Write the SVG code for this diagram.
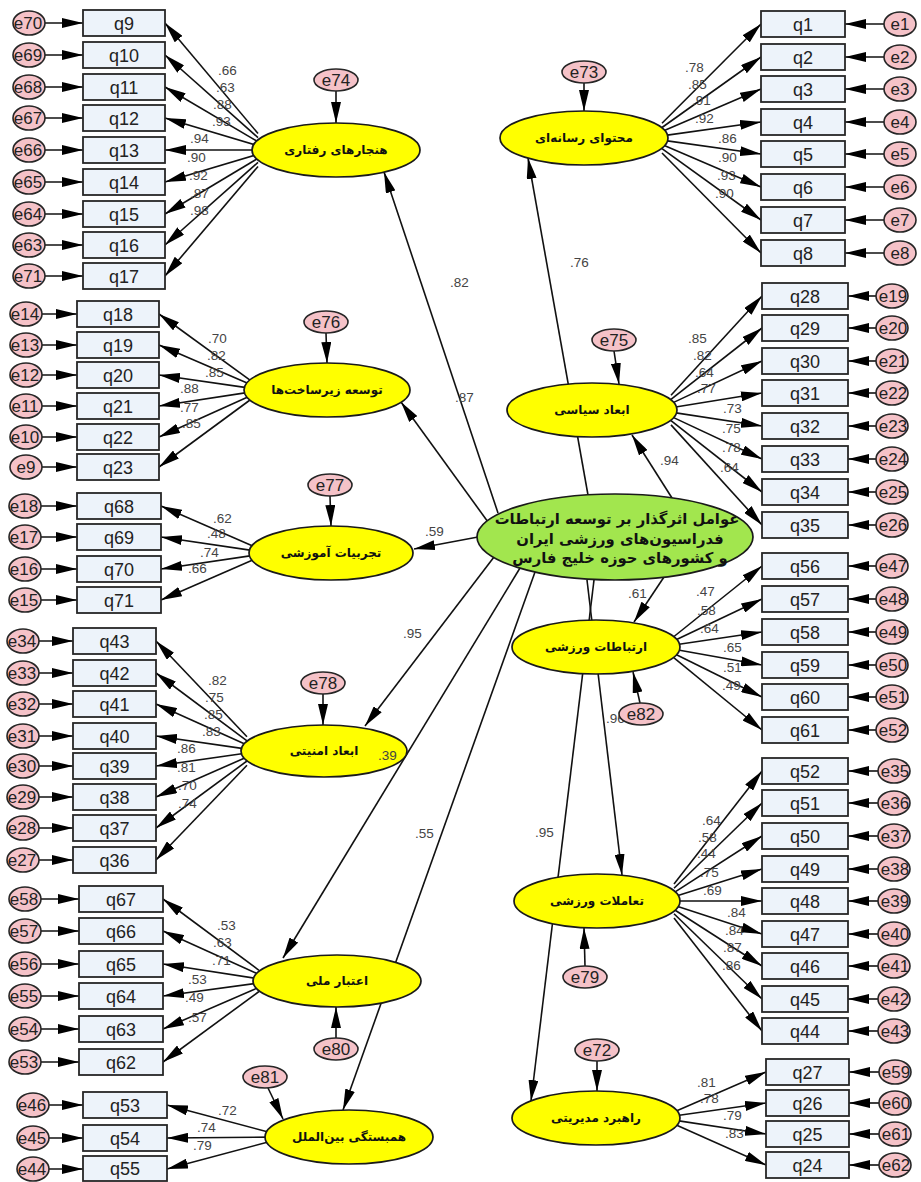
<svg xmlns="http://www.w3.org/2000/svg" width="921" height="1182" viewBox="0 0 921 1182">
<defs>
<style>
.ob{fill:#edf3fa;stroke:#262626;stroke-width:1.8}
.er{fill:#f5c2c8;stroke:#262626;stroke-width:1.6}
.lv{fill:#ffff00;stroke:#1a1a1a;stroke-width:1.7}
.gr{fill:#a2e64e;stroke:#1a1a1a;stroke-width:1.7}
.qt{font-family:"Liberation Sans",Arial,sans-serif;font-size:18px;fill:#222;text-anchor:middle}
.et{font-family:"Liberation Sans",Arial,sans-serif;font-size:17px;fill:#222;text-anchor:middle}
.lt{font-family:"DejaVu Sans","Noto Sans",sans-serif;font-weight:bold;font-size:12px;fill:#111;text-anchor:middle}
.gt{font-family:"DejaVu Sans","Noto Sans",sans-serif;font-weight:bold;font-size:14.8px;fill:#111;text-anchor:middle}
.ld{font-family:"Liberation Sans",Arial,sans-serif;font-size:13.5px;fill:#444}
.cn line{stroke:#111;stroke-width:1.6;marker-end:url(#ah)}
</style>
<marker id="ah" markerWidth="21" markerHeight="10" refX="21" refY="5" orient="auto" markerUnits="userSpaceOnUse"><path d="M0,0 L21,5 L0,10 z" fill="#000"/></marker>
</defs>
<rect width="921" height="1182" fill="#fff"/>
<g id="connectors" class="cn">
<line x1="498" y1="513" x2="384" y2="172"/>
<line x1="488" y1="522" x2="401" y2="402"/>
<line x1="478" y1="537" x2="414" y2="549"/>
<line x1="494" y1="557" x2="365" y2="726"/>
<line x1="520" y1="568" x2="283" y2="958"/>
<line x1="535" y1="572" x2="343" y2="1110"/>
<line x1="588" y1="495" x2="528" y2="158"/>
<line x1="672" y1="498" x2="632" y2="435"/>
<line x1="664" y1="577" x2="634" y2="622"/>
<line x1="587" y1="580" x2="622" y2="875"/>
<line x1="594" y1="580" x2="531" y2="1101"/>
<line x1="336" y1="91" x2="336" y2="123"/>
<line x1="326" y1="333" x2="327" y2="363"/>
<line x1="330" y1="496" x2="331" y2="526"/>
<line x1="323" y1="694" x2="323" y2="725"/>
<line x1="336" y1="1038" x2="336" y2="1007"/>
<line x1="268" y1="1088" x2="283" y2="1119"/>
<line x1="584" y1="83" x2="584" y2="111"/>
<line x1="614" y1="351" x2="619" y2="384"/>
<line x1="640" y1="703" x2="633" y2="672"/>
<line x1="585" y1="966" x2="584" y2="928"/>
<line x1="597" y1="1061" x2="597" y2="1091"/>
<line x1="258" y1="133.5" x2="165" y2="23"/>
<line x1="258" y1="137.6" x2="165" y2="55"/>
<line x1="258" y1="141.8" x2="165" y2="87"/>
<line x1="258" y1="145.8" x2="165" y2="118"/>
<line x1="258" y1="150" x2="165" y2="150"/>
<line x1="258" y1="154.2" x2="165" y2="182"/>
<line x1="258" y1="158.3" x2="165" y2="214"/>
<line x1="258" y1="162.4" x2="165" y2="245"/>
<line x1="258" y1="166.4" x2="165" y2="276"/>
<line x1="250" y1="380.1" x2="159" y2="314"/>
<line x1="250" y1="384.2" x2="159" y2="345"/>
<line x1="250" y1="388.1" x2="159" y2="375"/>
<line x1="250" y1="392.1" x2="159" y2="406"/>
<line x1="250" y1="396.1" x2="159" y2="437"/>
<line x1="250" y1="400" x2="159" y2="467"/>
<line x1="255" y1="546.9" x2="161" y2="506"/>
<line x1="255" y1="550.9" x2="161" y2="537"/>
<line x1="255" y1="555.1" x2="161" y2="569"/>
<line x1="255" y1="559.1" x2="161" y2="600"/>
<line x1="247" y1="736.7" x2="156" y2="641"/>
<line x1="247" y1="740.9" x2="156" y2="673"/>
<line x1="247" y1="744.9" x2="156" y2="704"/>
<line x1="247" y1="749.1" x2="156" y2="736"/>
<line x1="247" y1="753" x2="156" y2="766"/>
<line x1="247" y1="757" x2="156" y2="797"/>
<line x1="247" y1="761" x2="156" y2="828"/>
<line x1="247" y1="765.2" x2="156" y2="860"/>
<line x1="259" y1="970.3" x2="163" y2="899"/>
<line x1="259" y1="974.5" x2="163" y2="931"/>
<line x1="259" y1="978.8" x2="163" y2="964"/>
<line x1="259" y1="983" x2="163" y2="996"/>
<line x1="259" y1="987.2" x2="163" y2="1029"/>
<line x1="259" y1="991.5" x2="163" y2="1062"/>
<line x1="271" y1="1132.8" x2="167" y2="1105"/>
<line x1="271" y1="1137.1" x2="167" y2="1138"/>
<line x1="271" y1="1141.2" x2="167" y2="1169"/>
<line x1="662" y1="123.2" x2="761" y2="24"/>
<line x1="662" y1="127.5" x2="761" y2="57"/>
<line x1="662" y1="131.6" x2="761" y2="89"/>
<line x1="662" y1="135.9" x2="761" y2="122"/>
<line x1="662" y1="140.1" x2="761" y2="154"/>
<line x1="662" y1="144.4" x2="761" y2="187"/>
<line x1="662" y1="148.7" x2="761" y2="220"/>
<line x1="662" y1="153" x2="761" y2="253"/>
<line x1="671" y1="395.2" x2="762" y2="296"/>
<line x1="671" y1="399.3" x2="762" y2="328"/>
<line x1="671" y1="403.6" x2="762" y2="361"/>
<line x1="671" y1="407.8" x2="762" y2="393"/>
<line x1="671" y1="412.1" x2="762" y2="426"/>
<line x1="671" y1="416.4" x2="762" y2="459"/>
<line x1="671" y1="420.7" x2="762" y2="492"/>
<line x1="671" y1="424.9" x2="762" y2="525"/>
<line x1="674" y1="636.5" x2="762" y2="566"/>
<line x1="674" y1="640.8" x2="762" y2="599"/>
<line x1="674" y1="645" x2="762" y2="632"/>
<line x1="674" y1="649.3" x2="762" y2="665"/>
<line x1="674" y1="653.5" x2="762" y2="697"/>
<line x1="674" y1="657.8" x2="762" y2="730"/>
<line x1="674" y1="884.1" x2="762" y2="771"/>
<line x1="674" y1="888.3" x2="762" y2="803"/>
<line x1="674" y1="892.6" x2="762" y2="836"/>
<line x1="674" y1="896.8" x2="762" y2="869"/>
<line x1="674" y1="901" x2="762" y2="901"/>
<line x1="674" y1="905.3" x2="762" y2="934"/>
<line x1="674" y1="909.5" x2="762" y2="966"/>
<line x1="674" y1="913.7" x2="762" y2="999"/>
<line x1="674" y1="917.9" x2="762" y2="1031"/>
<line x1="674" y1="1112" x2="766" y2="1072"/>
<line x1="674" y1="1116" x2="766" y2="1103"/>
<line x1="674" y1="1120.1" x2="766" y2="1134"/>
<line x1="674" y1="1124.1" x2="766" y2="1165"/>
<line x1="45" y1="23" x2="83" y2="23"/><line x1="45" y1="55" x2="83" y2="55"/><line x1="45" y1="87" x2="83" y2="87"/><line x1="45" y1="118" x2="83" y2="118"/><line x1="45" y1="150" x2="83" y2="150"/><line x1="45" y1="182" x2="83" y2="182"/><line x1="45" y1="214" x2="83" y2="214"/><line x1="45" y1="245" x2="83" y2="245"/><line x1="45" y1="276" x2="83" y2="276"/>
<line x1="42" y1="314" x2="77" y2="314"/><line x1="42" y1="345" x2="77" y2="345"/><line x1="42" y1="375" x2="77" y2="375"/><line x1="42" y1="406" x2="77" y2="406"/><line x1="42" y1="437" x2="77" y2="437"/><line x1="42" y1="467" x2="77" y2="467"/>
<line x1="41" y1="506" x2="77" y2="506"/><line x1="41" y1="537" x2="77" y2="537"/><line x1="41" y1="569" x2="77" y2="569"/><line x1="41" y1="600" x2="77" y2="600"/>
<line x1="39" y1="641" x2="73" y2="641"/><line x1="39" y1="673" x2="73" y2="673"/><line x1="39" y1="704" x2="73" y2="704"/><line x1="39" y1="736" x2="73" y2="736"/><line x1="39" y1="766" x2="73" y2="766"/><line x1="39" y1="797" x2="73" y2="797"/><line x1="39" y1="828" x2="73" y2="828"/><line x1="39" y1="860" x2="73" y2="860"/>
<line x1="41" y1="899" x2="79" y2="899"/><line x1="41" y1="931" x2="79" y2="931"/><line x1="41" y1="964" x2="79" y2="964"/><line x1="41" y1="996" x2="79" y2="996"/><line x1="41" y1="1029" x2="79" y2="1029"/><line x1="41" y1="1062" x2="79" y2="1062"/>
<line x1="49" y1="1105" x2="83" y2="1105"/><line x1="49" y1="1138" x2="83" y2="1138"/><line x1="49" y1="1169" x2="83" y2="1169"/>
<line x1="884" y1="24" x2="845" y2="24"/><line x1="884" y1="57" x2="845" y2="57"/><line x1="884" y1="89" x2="845" y2="89"/><line x1="884" y1="122" x2="845" y2="122"/><line x1="884" y1="154" x2="845" y2="154"/><line x1="884" y1="187" x2="845" y2="187"/><line x1="884" y1="220" x2="845" y2="220"/><line x1="884" y1="253" x2="845" y2="253"/>
<line x1="876" y1="296" x2="848" y2="296"/><line x1="876" y1="328" x2="848" y2="328"/><line x1="876" y1="361" x2="848" y2="361"/><line x1="876" y1="393" x2="848" y2="393"/><line x1="876" y1="426" x2="848" y2="426"/><line x1="876" y1="459" x2="848" y2="459"/><line x1="876" y1="492" x2="848" y2="492"/><line x1="876" y1="525" x2="848" y2="525"/>
<line x1="876" y1="566" x2="848" y2="566"/><line x1="876" y1="599" x2="848" y2="599"/><line x1="876" y1="632" x2="848" y2="632"/><line x1="876" y1="665" x2="848" y2="665"/><line x1="876" y1="697" x2="848" y2="697"/><line x1="876" y1="730" x2="848" y2="730"/>
<line x1="878" y1="771" x2="848" y2="771"/><line x1="878" y1="803" x2="848" y2="803"/><line x1="878" y1="836" x2="848" y2="836"/><line x1="878" y1="869" x2="848" y2="869"/><line x1="878" y1="901" x2="848" y2="901"/><line x1="878" y1="934" x2="848" y2="934"/><line x1="878" y1="966" x2="848" y2="966"/><line x1="878" y1="999" x2="848" y2="999"/><line x1="878" y1="1031" x2="848" y2="1031"/>
<line x1="879" y1="1072" x2="849" y2="1072"/><line x1="879" y1="1103" x2="849" y2="1103"/><line x1="879" y1="1134" x2="849" y2="1134"/><line x1="879" y1="1165" x2="849" y2="1165"/>
</g>
<g id="label-under" class="ld"><text x="606" y="723">.96</text></g>
<g id="green"><ellipse class="gr" cx="615" cy="537" rx="138" ry="43"/><text class="gt"><tspan x="617" y="524">عوامل اثرگذار بر توسعه ارتباطات</tspan><tspan x="620" y="544">فدراسیون‌های ورزشی ایران</tspan><tspan x="620" y="563">و کشورهای حوزه خلیج فارس</tspan></text></g>
<g id="LA"><ellipse class="lv" cx="336" cy="150" rx="84" ry="27"/><text class="lt" x="336" y="154">هنجارهای رفتاری</text></g>
<g id="LB"><ellipse class="lv" cx="327" cy="390" rx="83" ry="27"/><text class="lt" x="327" y="394">توسعه زیرساخت‌ها</text></g>
<g id="LC"><ellipse class="lv" cx="331" cy="553" rx="82" ry="27"/><text class="lt" x="331" y="557">تجربیات آموزشی</text></g>
<g id="LD"><ellipse class="lv" cx="324" cy="751" rx="83" ry="26"/><text class="lt" x="324" y="755">ابعاد امنیتی</text></g>
<g id="LE"><ellipse class="lv" cx="337" cy="981" rx="84" ry="26"/><text class="lt" x="337" y="985">اعتبار ملی</text></g>
<g id="LF"><ellipse class="lv" cx="349" cy="1137" rx="84" ry="27"/><text class="lt" x="349" y="1141">همبستگی بین‌الملل</text></g>
<g id="LG"><ellipse class="lv" cx="584" cy="138" rx="84" ry="27"/><text class="lt" x="584" y="142">محتوای رسانه‌ای</text></g>
<g id="LH"><ellipse class="lv" cx="592" cy="410" rx="85" ry="27"/><text class="lt" x="592" y="414">ابعاد سیاسی</text></g>
<g id="LI"><ellipse class="lv" cx="596" cy="647" rx="84" ry="27"/><text class="lt" x="596" y="651">ارتباطات ورزشی</text></g>
<g id="LJ"><ellipse class="lv" cx="597" cy="901" rx="83" ry="27"/><text class="lt" x="597" y="905">تعاملات ورزشی</text></g>
<g id="LK"><ellipse class="lv" cx="596" cy="1118" rx="84" ry="27"/><text class="lt" x="596" y="1122">راهبرد مدیریتی</text></g>
<g id="e74"><ellipse class="er" cx="336" cy="80" rx="22" ry="11"/><text class="et" x="336" y="86">e74</text></g>
<g id="e76"><ellipse class="er" cx="326" cy="322" rx="22" ry="11"/><text class="et" x="326" y="328">e76</text></g>
<g id="e77"><ellipse class="er" cx="330" cy="485" rx="22" ry="11"/><text class="et" x="330" y="491">e77</text></g>
<g id="e78"><ellipse class="er" cx="323" cy="683" rx="22" ry="11"/><text class="et" x="323" y="689">e78</text></g>
<g id="e80"><ellipse class="er" cx="336" cy="1049" rx="22" ry="11"/><text class="et" x="336" y="1055">e80</text></g>
<g id="e81"><ellipse class="er" cx="265" cy="1077" rx="22" ry="11"/><text class="et" x="265" y="1083">e81</text></g>
<g id="e73"><ellipse class="er" cx="584" cy="72" rx="22" ry="11"/><text class="et" x="584" y="78">e73</text></g>
<g id="e75"><ellipse class="er" cx="614" cy="340" rx="22" ry="11"/><text class="et" x="614" y="346">e75</text></g>
<g id="e82"><ellipse class="er" cx="641" cy="714" rx="22" ry="11"/><text class="et" x="641" y="720">e82</text></g>
<g id="e79"><ellipse class="er" cx="585" cy="977" rx="22" ry="11"/><text class="et" x="585" y="983">e79</text></g>
<g id="e72"><ellipse class="er" cx="597" cy="1050" rx="22" ry="11"/><text class="et" x="597" y="1056">e72</text></g>
<g id="q9"><rect class="ob" x="83" y="10" width="82" height="26"/><text class="qt" x="124" y="29.5">q9</text></g>
<g id="q10"><rect class="ob" x="83" y="42" width="82" height="26"/><text class="qt" x="124" y="61.5">q10</text></g>
<g id="q11"><rect class="ob" x="83" y="74" width="82" height="26"/><text class="qt" x="124" y="93.5">q11</text></g>
<g id="q12"><rect class="ob" x="83" y="105" width="82" height="26"/><text class="qt" x="124" y="124.5">q12</text></g>
<g id="q13"><rect class="ob" x="83" y="137" width="82" height="26"/><text class="qt" x="124" y="156.5">q13</text></g>
<g id="q14"><rect class="ob" x="83" y="169" width="82" height="26"/><text class="qt" x="124" y="188.5">q14</text></g>
<g id="q15"><rect class="ob" x="83" y="201" width="82" height="26"/><text class="qt" x="124" y="220.5">q15</text></g>
<g id="q16"><rect class="ob" x="83" y="232" width="82" height="26"/><text class="qt" x="124" y="251.5">q16</text></g>
<g id="q17"><rect class="ob" x="83" y="263" width="82" height="26"/><text class="qt" x="124" y="282.5">q17</text></g>
<g id="e70"><ellipse class="er" cx="29" cy="23" rx="16" ry="12"/><text class="et" x="28" y="29">e70</text></g>
<g id="e69"><ellipse class="er" cx="29" cy="55" rx="16" ry="12"/><text class="et" x="28" y="61">e69</text></g>
<g id="e68"><ellipse class="er" cx="29" cy="87" rx="16" ry="12"/><text class="et" x="28" y="93">e68</text></g>
<g id="e67"><ellipse class="er" cx="29" cy="118" rx="16" ry="12"/><text class="et" x="28" y="124">e67</text></g>
<g id="e66"><ellipse class="er" cx="29" cy="150" rx="16" ry="12"/><text class="et" x="28" y="156">e66</text></g>
<g id="e65"><ellipse class="er" cx="29" cy="182" rx="16" ry="12"/><text class="et" x="28" y="188">e65</text></g>
<g id="e64"><ellipse class="er" cx="29" cy="214" rx="16" ry="12"/><text class="et" x="28" y="220">e64</text></g>
<g id="e63"><ellipse class="er" cx="29" cy="245" rx="16" ry="12"/><text class="et" x="28" y="251">e63</text></g>
<g id="e71"><ellipse class="er" cx="29" cy="276" rx="16" ry="12"/><text class="et" x="28" y="282">e71</text></g>
<g id="q18"><rect class="ob" x="77" y="301" width="82" height="26"/><text class="qt" x="118" y="320.5">q18</text></g>
<g id="q19"><rect class="ob" x="77" y="332" width="82" height="26"/><text class="qt" x="118" y="351.5">q19</text></g>
<g id="q20"><rect class="ob" x="77" y="362" width="82" height="26"/><text class="qt" x="118" y="381.5">q20</text></g>
<g id="q21"><rect class="ob" x="77" y="393" width="82" height="26"/><text class="qt" x="118" y="412.5">q21</text></g>
<g id="q22"><rect class="ob" x="77" y="424" width="82" height="26"/><text class="qt" x="118" y="443.5">q22</text></g>
<g id="q23"><rect class="ob" x="77" y="454" width="82" height="26"/><text class="qt" x="118" y="473.5">q23</text></g>
<g id="e14"><ellipse class="er" cx="26" cy="314" rx="16" ry="12"/><text class="et" x="25" y="320">e14</text></g>
<g id="e13"><ellipse class="er" cx="26" cy="345" rx="16" ry="12"/><text class="et" x="25" y="351">e13</text></g>
<g id="e12"><ellipse class="er" cx="26" cy="375" rx="16" ry="12"/><text class="et" x="25" y="381">e12</text></g>
<g id="e11"><ellipse class="er" cx="26" cy="406" rx="16" ry="12"/><text class="et" x="25" y="412">e11</text></g>
<g id="e10"><ellipse class="er" cx="26" cy="437" rx="16" ry="12"/><text class="et" x="25" y="443">e10</text></g>
<g id="e9"><ellipse class="er" cx="26" cy="467" rx="16" ry="12"/><text class="et" x="26" y="473">e9</text></g>
<g id="q68"><rect class="ob" x="77" y="493" width="84" height="26"/><text class="qt" x="119" y="512.5">q68</text></g>
<g id="q69"><rect class="ob" x="77" y="524" width="84" height="26"/><text class="qt" x="119" y="543.5">q69</text></g>
<g id="q70"><rect class="ob" x="77" y="556" width="84" height="26"/><text class="qt" x="119" y="575.5">q70</text></g>
<g id="q71"><rect class="ob" x="77" y="587" width="84" height="26"/><text class="qt" x="119" y="606.5">q71</text></g>
<g id="e18"><ellipse class="er" cx="25" cy="506" rx="16" ry="12"/><text class="et" x="24" y="512">e18</text></g>
<g id="e17"><ellipse class="er" cx="25" cy="537" rx="16" ry="12"/><text class="et" x="24" y="543">e17</text></g>
<g id="e16"><ellipse class="er" cx="25" cy="569" rx="16" ry="12"/><text class="et" x="24" y="575">e16</text></g>
<g id="e15"><ellipse class="er" cx="25" cy="600" rx="16" ry="12"/><text class="et" x="24" y="606">e15</text></g>
<g id="q43"><rect class="ob" x="73" y="628" width="83" height="26"/><text class="qt" x="114.5" y="647.5">q43</text></g>
<g id="q42"><rect class="ob" x="73" y="660" width="83" height="26"/><text class="qt" x="114.5" y="679.5">q42</text></g>
<g id="q41"><rect class="ob" x="73" y="691" width="83" height="26"/><text class="qt" x="114.5" y="710.5">q41</text></g>
<g id="q40"><rect class="ob" x="73" y="723" width="83" height="26"/><text class="qt" x="114.5" y="742.5">q40</text></g>
<g id="q39"><rect class="ob" x="73" y="753" width="83" height="26"/><text class="qt" x="114.5" y="772.5">q39</text></g>
<g id="q38"><rect class="ob" x="73" y="784" width="83" height="26"/><text class="qt" x="114.5" y="803.5">q38</text></g>
<g id="q37"><rect class="ob" x="73" y="815" width="83" height="26"/><text class="qt" x="114.5" y="834.5">q37</text></g>
<g id="q36"><rect class="ob" x="73" y="847" width="83" height="26"/><text class="qt" x="114.5" y="866.5">q36</text></g>
<g id="e34"><ellipse class="er" cx="23" cy="641" rx="16" ry="12"/><text class="et" x="22" y="647">e34</text></g>
<g id="e33"><ellipse class="er" cx="23" cy="673" rx="16" ry="12"/><text class="et" x="22" y="679">e33</text></g>
<g id="e32"><ellipse class="er" cx="23" cy="704" rx="16" ry="12"/><text class="et" x="22" y="710">e32</text></g>
<g id="e31"><ellipse class="er" cx="23" cy="736" rx="16" ry="12"/><text class="et" x="22" y="742">e31</text></g>
<g id="e30"><ellipse class="er" cx="23" cy="766" rx="16" ry="12"/><text class="et" x="22" y="772">e30</text></g>
<g id="e29"><ellipse class="er" cx="23" cy="797" rx="16" ry="12"/><text class="et" x="22" y="803">e29</text></g>
<g id="e28"><ellipse class="er" cx="23" cy="828" rx="16" ry="12"/><text class="et" x="22" y="834">e28</text></g>
<g id="e27"><ellipse class="er" cx="23" cy="860" rx="16" ry="12"/><text class="et" x="22" y="866">e27</text></g>
<g id="q67"><rect class="ob" x="79" y="886" width="84" height="26"/><text class="qt" x="121" y="905.5">q67</text></g>
<g id="q66"><rect class="ob" x="79" y="918" width="84" height="26"/><text class="qt" x="121" y="937.5">q66</text></g>
<g id="q65"><rect class="ob" x="79" y="951" width="84" height="26"/><text class="qt" x="121" y="970.5">q65</text></g>
<g id="q64"><rect class="ob" x="79" y="983" width="84" height="26"/><text class="qt" x="121" y="1002.5">q64</text></g>
<g id="q63"><rect class="ob" x="79" y="1016" width="84" height="26"/><text class="qt" x="121" y="1035.5">q63</text></g>
<g id="q62"><rect class="ob" x="79" y="1049" width="84" height="26"/><text class="qt" x="121" y="1068.5">q62</text></g>
<g id="e58"><ellipse class="er" cx="25" cy="899" rx="16" ry="12"/><text class="et" x="24" y="905">e58</text></g>
<g id="e57"><ellipse class="er" cx="25" cy="931" rx="16" ry="12"/><text class="et" x="24" y="937">e57</text></g>
<g id="e56"><ellipse class="er" cx="25" cy="964" rx="16" ry="12"/><text class="et" x="24" y="970">e56</text></g>
<g id="e55"><ellipse class="er" cx="25" cy="996" rx="16" ry="12"/><text class="et" x="24" y="1002">e55</text></g>
<g id="e54"><ellipse class="er" cx="25" cy="1029" rx="16" ry="12"/><text class="et" x="24" y="1035">e54</text></g>
<g id="e53"><ellipse class="er" cx="25" cy="1062" rx="16" ry="12"/><text class="et" x="24" y="1068">e53</text></g>
<g id="q53"><rect class="ob" x="83" y="1092" width="84" height="26"/><text class="qt" x="125" y="1111.5">q53</text></g>
<g id="q54"><rect class="ob" x="83" y="1125" width="84" height="26"/><text class="qt" x="125" y="1144.5">q54</text></g>
<g id="q55"><rect class="ob" x="83" y="1156" width="84" height="25"/><text class="qt" x="125" y="1175">q55</text></g>
<g id="e46"><ellipse class="er" cx="33" cy="1105" rx="16" ry="12"/><text class="et" x="32" y="1111">e46</text></g>
<g id="e45"><ellipse class="er" cx="33" cy="1138" rx="16" ry="12"/><text class="et" x="32" y="1144">e45</text></g>
<g id="e44"><ellipse class="er" cx="33" cy="1169" rx="16" ry="12"/><text class="et" x="32" y="1175">e44</text></g>
<g id="q1"><rect class="ob" x="761" y="11" width="84" height="26"/><text class="qt" x="803" y="30.5">q1</text></g>
<g id="q2"><rect class="ob" x="761" y="44" width="84" height="26"/><text class="qt" x="803" y="63.5">q2</text></g>
<g id="q3"><rect class="ob" x="761" y="76" width="84" height="26"/><text class="qt" x="803" y="95.5">q3</text></g>
<g id="q4"><rect class="ob" x="761" y="109" width="84" height="26"/><text class="qt" x="803" y="128.5">q4</text></g>
<g id="q5"><rect class="ob" x="761" y="141" width="84" height="26"/><text class="qt" x="803" y="160.5">q5</text></g>
<g id="q6"><rect class="ob" x="761" y="174" width="84" height="26"/><text class="qt" x="803" y="193.5">q6</text></g>
<g id="q7"><rect class="ob" x="761" y="207" width="84" height="26"/><text class="qt" x="803" y="226.5">q7</text></g>
<g id="q8"><rect class="ob" x="761" y="240" width="84" height="26"/><text class="qt" x="803" y="259.5">q8</text></g>
<g id="e1"><ellipse class="er" cx="900" cy="24" rx="16" ry="12"/><text class="et" x="900" y="30">e1</text></g>
<g id="e2"><ellipse class="er" cx="900" cy="57" rx="16" ry="12"/><text class="et" x="900" y="63">e2</text></g>
<g id="e3"><ellipse class="er" cx="900" cy="89" rx="16" ry="12"/><text class="et" x="900" y="95">e3</text></g>
<g id="e4"><ellipse class="er" cx="900" cy="122" rx="16" ry="12"/><text class="et" x="900" y="128">e4</text></g>
<g id="e5"><ellipse class="er" cx="900" cy="154" rx="16" ry="12"/><text class="et" x="900" y="160">e5</text></g>
<g id="e6"><ellipse class="er" cx="900" cy="187" rx="16" ry="12"/><text class="et" x="900" y="193">e6</text></g>
<g id="e7"><ellipse class="er" cx="900" cy="220" rx="16" ry="12"/><text class="et" x="900" y="226">e7</text></g>
<g id="e8"><ellipse class="er" cx="900" cy="253" rx="16" ry="12"/><text class="et" x="900" y="259">e8</text></g>
<g id="q28"><rect class="ob" x="762" y="283" width="86" height="26"/><text class="qt" x="805" y="302.5">q28</text></g>
<g id="q29"><rect class="ob" x="762" y="315" width="86" height="26"/><text class="qt" x="805" y="334.5">q29</text></g>
<g id="q30"><rect class="ob" x="762" y="348" width="86" height="26"/><text class="qt" x="805" y="367.5">q30</text></g>
<g id="q31"><rect class="ob" x="762" y="380" width="86" height="26"/><text class="qt" x="805" y="399.5">q31</text></g>
<g id="q32"><rect class="ob" x="762" y="413" width="86" height="26"/><text class="qt" x="805" y="432.5">q32</text></g>
<g id="q33"><rect class="ob" x="762" y="446" width="86" height="26"/><text class="qt" x="805" y="465.5">q33</text></g>
<g id="q34"><rect class="ob" x="762" y="479" width="86" height="26"/><text class="qt" x="805" y="498.5">q34</text></g>
<g id="q35"><rect class="ob" x="762" y="512" width="86" height="26"/><text class="qt" x="805" y="531.5">q35</text></g>
<g id="e19"><ellipse class="er" cx="892" cy="296" rx="16" ry="12"/><text class="et" x="893" y="302">e19</text></g>
<g id="e20"><ellipse class="er" cx="892" cy="328" rx="16" ry="12"/><text class="et" x="893" y="334">e20</text></g>
<g id="e21"><ellipse class="er" cx="892" cy="361" rx="16" ry="12"/><text class="et" x="893" y="367">e21</text></g>
<g id="e22"><ellipse class="er" cx="892" cy="393" rx="16" ry="12"/><text class="et" x="893" y="399">e22</text></g>
<g id="e23"><ellipse class="er" cx="892" cy="426" rx="16" ry="12"/><text class="et" x="893" y="432">e23</text></g>
<g id="e24"><ellipse class="er" cx="892" cy="459" rx="16" ry="12"/><text class="et" x="893" y="465">e24</text></g>
<g id="e25"><ellipse class="er" cx="892" cy="492" rx="16" ry="12"/><text class="et" x="893" y="498">e25</text></g>
<g id="e26"><ellipse class="er" cx="892" cy="525" rx="16" ry="12"/><text class="et" x="893" y="531">e26</text></g>
<g id="q56"><rect class="ob" x="762" y="553" width="86" height="26"/><text class="qt" x="805" y="572.5">q56</text></g>
<g id="q57"><rect class="ob" x="762" y="586" width="86" height="26"/><text class="qt" x="805" y="605.5">q57</text></g>
<g id="q58"><rect class="ob" x="762" y="619" width="86" height="26"/><text class="qt" x="805" y="638.5">q58</text></g>
<g id="q59"><rect class="ob" x="762" y="652" width="86" height="26"/><text class="qt" x="805" y="671.5">q59</text></g>
<g id="q60"><rect class="ob" x="762" y="684" width="86" height="26"/><text class="qt" x="805" y="703.5">q60</text></g>
<g id="q61"><rect class="ob" x="762" y="717" width="86" height="26"/><text class="qt" x="805" y="736.5">q61</text></g>
<g id="e47"><ellipse class="er" cx="892" cy="566" rx="16" ry="12"/><text class="et" x="893" y="572">e47</text></g>
<g id="e48"><ellipse class="er" cx="892" cy="599" rx="16" ry="12"/><text class="et" x="893" y="605">e48</text></g>
<g id="e49"><ellipse class="er" cx="892" cy="632" rx="16" ry="12"/><text class="et" x="893" y="638">e49</text></g>
<g id="e50"><ellipse class="er" cx="892" cy="665" rx="16" ry="12"/><text class="et" x="893" y="671">e50</text></g>
<g id="e51"><ellipse class="er" cx="892" cy="697" rx="16" ry="12"/><text class="et" x="893" y="703">e51</text></g>
<g id="e52"><ellipse class="er" cx="892" cy="730" rx="16" ry="12"/><text class="et" x="893" y="736">e52</text></g>
<g id="q52"><rect class="ob" x="762" y="758" width="86" height="26"/><text class="qt" x="805" y="777.5">q52</text></g>
<g id="q51"><rect class="ob" x="762" y="790" width="86" height="26"/><text class="qt" x="805" y="809.5">q51</text></g>
<g id="q50"><rect class="ob" x="762" y="823" width="86" height="26"/><text class="qt" x="805" y="842.5">q50</text></g>
<g id="q49"><rect class="ob" x="762" y="856" width="86" height="26"/><text class="qt" x="805" y="875.5">q49</text></g>
<g id="q48"><rect class="ob" x="762" y="888" width="86" height="26"/><text class="qt" x="805" y="907.5">q48</text></g>
<g id="q47"><rect class="ob" x="762" y="921" width="86" height="26"/><text class="qt" x="805" y="940.5">q47</text></g>
<g id="q46"><rect class="ob" x="762" y="953" width="86" height="26"/><text class="qt" x="805" y="972.5">q46</text></g>
<g id="q45"><rect class="ob" x="762" y="986" width="86" height="26"/><text class="qt" x="805" y="1005.5">q45</text></g>
<g id="q44"><rect class="ob" x="762" y="1018" width="86" height="26"/><text class="qt" x="805" y="1037.5">q44</text></g>
<g id="e35"><ellipse class="er" cx="894" cy="771" rx="16" ry="12"/><text class="et" x="895" y="777">e35</text></g>
<g id="e36"><ellipse class="er" cx="894" cy="803" rx="16" ry="12"/><text class="et" x="895" y="809">e36</text></g>
<g id="e37"><ellipse class="er" cx="894" cy="836" rx="16" ry="12"/><text class="et" x="895" y="842">e37</text></g>
<g id="e38"><ellipse class="er" cx="894" cy="869" rx="16" ry="12"/><text class="et" x="895" y="875">e38</text></g>
<g id="e39"><ellipse class="er" cx="894" cy="901" rx="16" ry="12"/><text class="et" x="895" y="907">e39</text></g>
<g id="e40"><ellipse class="er" cx="894" cy="934" rx="16" ry="12"/><text class="et" x="895" y="940">e40</text></g>
<g id="e41"><ellipse class="er" cx="894" cy="966" rx="16" ry="12"/><text class="et" x="895" y="972">e41</text></g>
<g id="e42"><ellipse class="er" cx="894" cy="999" rx="16" ry="12"/><text class="et" x="895" y="1005">e42</text></g>
<g id="e43"><ellipse class="er" cx="894" cy="1031" rx="16" ry="12"/><text class="et" x="895" y="1037">e43</text></g>
<g id="q27"><rect class="ob" x="766" y="1059" width="83" height="26"/><text class="qt" x="807.5" y="1078.5">q27</text></g>
<g id="q26"><rect class="ob" x="766" y="1090" width="83" height="26"/><text class="qt" x="807.5" y="1109.5">q26</text></g>
<g id="q25"><rect class="ob" x="766" y="1121" width="83" height="26"/><text class="qt" x="807.5" y="1140.5">q25</text></g>
<g id="q24"><rect class="ob" x="766" y="1152" width="83" height="26"/><text class="qt" x="807.5" y="1171.5">q24</text></g>
<g id="e59"><ellipse class="er" cx="895" cy="1072" rx="16" ry="12"/><text class="et" x="896" y="1078">e59</text></g>
<g id="e60"><ellipse class="er" cx="895" cy="1103" rx="16" ry="12"/><text class="et" x="896" y="1109">e60</text></g>
<g id="e61"><ellipse class="er" cx="895" cy="1134" rx="16" ry="12"/><text class="et" x="896" y="1140">e61</text></g>
<g id="e62"><ellipse class="er" cx="895" cy="1165" rx="16" ry="12"/><text class="et" x="896" y="1171">e62</text></g>
<g id="labels" class="ld">
<text x="450" y="287">.82</text><text x="455" y="402">.87</text><text x="425" y="536">.59</text><text x="403" y="638">.95</text><text x="378" y="760">.39</text><text x="415" y="838">.55</text><text x="570" y="267">.76</text><text x="660" y="465">.94</text><text x="628" y="598">.61</text><text x="535" y="837">.95</text>
<text x="218" y="74.5">.66</text><text x="216" y="91.5">.63</text><text x="213" y="108.5">.88</text><text x="212" y="125.5">.93</text><text x="190" y="142.5">.94</text><text x="187" y="161.5">.90</text><text x="189" y="179.5">.92</text><text x="190" y="197.5">.87</text><text x="190" y="214.5">.98</text>
<text x="208" y="342.5">.70</text><text x="207" y="359.5">.82</text><text x="205" y="376.5">.85</text><text x="180" y="392.5">.88</text><text x="180" y="411.5">.77</text><text x="182" y="427.5">.85</text>
<text x="213" y="522.5">.62</text><text x="207" y="537.5">.48</text><text x="200" y="556.5">.74</text><text x="188" y="572.5">.66</text>
<text x="208" y="684.5">.82</text><text x="205" y="701.5">.75</text><text x="204" y="718.5">.85</text><text x="202" y="735.5">.83</text><text x="177" y="752.5">.86</text><text x="177" y="771.5">.81</text><text x="178" y="789.5">.70</text><text x="178" y="807.5">.74</text>
<text x="217" y="929.5">.53</text><text x="213" y="946.5">.63</text><text x="212" y="964.5">.71</text><text x="188" y="983.5">.53</text><text x="185" y="1001.5">.49</text><text x="188" y="1021.5">.57</text>
<text x="218" y="1114.5">.72</text><text x="197" y="1131.5">.74</text><text x="193" y="1149.5">.79</text>
<text x="685" y="71.5">.78</text><text x="688" y="88.5">.85</text><text x="692" y="104.5">.91</text><text x="695" y="122.5">.92</text><text x="718" y="142.5">.86</text><text x="718" y="161.5">.90</text><text x="717" y="179.5">.93</text><text x="715" y="197.5">.90</text>
<text x="688" y="342.5">.85</text><text x="693" y="359.5">.82</text><text x="695" y="376.5">.64</text><text x="697" y="393">.77</text><text x="723" y="412.5">.73</text><text x="722" y="432.5">.75</text><text x="722" y="451.5">.78</text><text x="720" y="471.5">.64</text>
<text x="696" y="595.5">.47</text><text x="697" y="614.5">.58</text><text x="700" y="632.5">.64</text><text x="723" y="651.5">.65</text><text x="723" y="671.5">.51</text><text x="722" y="689.5">.49</text>
<text x="702" y="824.5">.64</text><text x="698" y="841.5">.58</text><text x="697" y="857.5">.44</text><text x="700" y="876.5">.75</text><text x="703" y="894.5">.69</text><text x="727" y="916.5">.84</text><text x="725" y="934.5">.84</text><text x="723" y="951.5">.87</text><text x="722" y="969.5">.86</text>
<text x="697" y="1086.5">.81</text><text x="700" y="1102.5">.78</text><text x="723" y="1119.5">.79</text><text x="725" y="1137.5">.83</text>
</g>
</svg>
